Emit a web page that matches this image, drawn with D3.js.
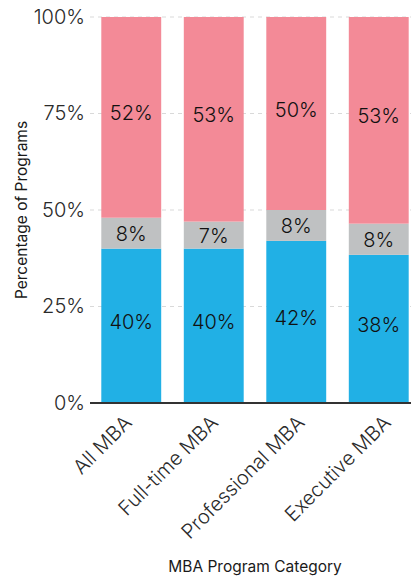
<!DOCTYPE html>
<html><head><meta charset="utf-8">
<script src="https://cdn.jsdelivr.net/npm/d3@7"></script>
<style>html,body{margin:0;padding:0;background:#fff;}svg{display:block;font-family:Inter,"Noto Sans",sans-serif;font-weight:300;}</style>
</head><body>
<svg id="c" width="411" height="579"></svg>
<script>
const categories = ["All MBA", "Full-time MBA", "Professional MBA", "Executive MBA"];
const seriesKeys = ["blue", "grey", "pink"];
const blueValues = [40, 40, 42, 38];
const greyValues = [8, 7, 8, 8];
const pinkValues = [52, 53, 50, 53];
const yTicks = [0, 0.25, 0.5, 0.75, 1];
const colors = {blue: "#21b0e5", grey: "#bfc1c2", pink: "#f38a97"};

const rows = categories.map((c, i) => ({cat: c, blue: blueValues[i], grey: greyValues[i], pink: pinkValues[i]}));
const stack = d3.stack().keys(seriesKeys).offset(d3.stackOffsetExpand)(rows);

const svg = d3.select("#c");
const x = d3.scaleBand().domain(categories).range([90, 420]).paddingInner(0.274).paddingOuter(0.137);
const y = d3.scaleLinear().domain([0, 1]).range([403, 17]);
const labelX = d3.scalePoint().domain(categories).range([131, 390]);

// grid
svg.append("g").selectAll("line").data(yTicks.filter(t => t > 0)).join("line")
  .attr("x1", 90).attr("x2", 411).attr("y1", d => y(d)).attr("y2", d => y(d))
  .attr("stroke", "#d9d9d9").attr("stroke-width", 1).attr("stroke-dasharray", "4,4");

// bars
const g = svg.append("g");
stack.forEach(s => {
  g.append("g").selectAll("rect").data(s).join("rect")
    .attr("x", d => x(d.data.cat)).attr("width", x.bandwidth())
    .attr("y", d => y(d[1])).attr("height", d => y(d[0]) - y(d[1]))
    .attr("fill", colors[s.key]);
  g.append("g").selectAll("text").data(s).join("text")
    .attr("x", d => x(d.data.cat) + x.bandwidth() / 2)
    .attr("y", d => y((d[0] + d[1]) / 2))
    .attr("dy", s.key === "grey" ? "0.38em" : "0.15em").attr("text-anchor", "middle")
    .attr("font-size", 20).attr("fill", "#111")
    .text(d => d.data[s.key] + "%");
});

// y axis labels
const yAxis = d3.axisLeft(y).tickValues(yTicks).tickFormat(d => Math.round(d * 100) + "%").tickSize(0).tickPadding(5);
const ya = svg.append("g").attr("transform", "translate(90,0)").call(yAxis);
ya.select(".domain").remove();
ya.selectAll("text").attr("font-size", 20).attr("fill", "#2a2a2a").attr("font-family", "Inter,sans-serif").attr("font-weight", 300);

// baseline
svg.append("line").attr("x1", 90).attr("x2", 411).attr("y1", y(0)).attr("y2", y(0))
  .attr("stroke", "#333").attr("stroke-width", 2);

// x axis labels
const xa = svg.append("g");
xa.selectAll("text").data(categories).join("text")
  .attr("font-size", 20).attr("fill", "#2a2a2a").attr("font-weight", 300)
  .attr("text-anchor", "end")
  .attr("transform", d => `translate(${labelX(d) + 2},${y(0) + 21}) rotate(-45)`)
  .text(d => d);

// titles
svg.append("text").attr("x", 255).attr("y", 572).attr("text-anchor", "middle")
  .attr("font-size", 15.5).attr("font-weight", 400).attr("fill", "#1a1a1a").text("MBA Program Category");
svg.append("text").attr("transform", `translate(27,${y(0.5)}) rotate(-90)`).attr("text-anchor", "middle")
  .attr("font-size", 15.5).attr("font-weight", 400).attr("fill", "#1a1a1a").text("Percentage of Programs");
</script>
</body></html>
